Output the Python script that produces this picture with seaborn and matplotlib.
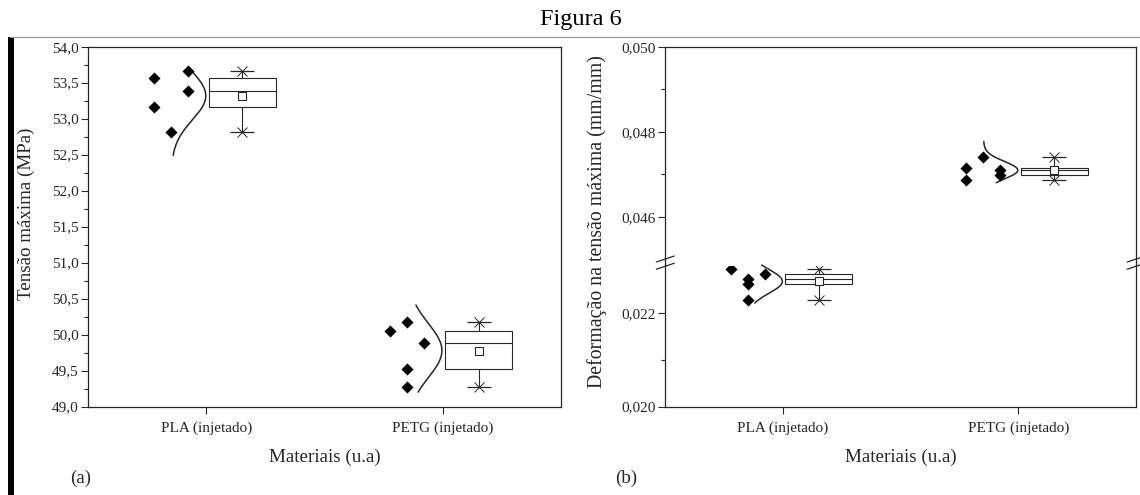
import numpy as np
import pandas as pd
import matplotlib
matplotlib.use("Agg")
import matplotlib.pyplot as plt
import seaborn as sns
from matplotlib.lines import Line2D
from matplotlib.ticker import FixedLocator, FuncFormatter

# ── Data ─────────────────────────────────────────────────────────────────────
materiais = ["PLA (injetado)", "PETG (injetado)"]

# (a) Tensão máxima (MPa)
tensao_pla  = [53.56, 53.16, 52.82, 53.66, 53.39]
tensao_petg = [50.05, 50.17, 49.88, 49.52, 49.27]
# strip column of each diamond (0 = left, 1 = middle, 2 = right)
tensao_pla_col  = [0, 0, 1, 2, 2]
tensao_petg_col = [0, 1, 2, 1, 1]
# vertical extent of the normal curves
tensao_pla_curva  = [52.49, 53.70]
tensao_petg_curva = [49.20, 50.41]
tensao_ticks = [49.0, 49.5, 50.0, 50.5, 51.0, 51.5, 52.0, 52.5, 53.0, 53.5, 54.0]

# (b) Deformação na tensão máxima (mm/mm)
deform_pla  = [0.02294, 0.02272, 0.02261, 0.02227, 0.02282]
deform_petg = [0.04714, 0.04686, 0.04741, 0.04709, 0.04697]
deform_pla_col  = [0, 1, 1, 1, 2]
deform_petg_col = [0, 0, 1, 2, 2]
deform_pla_curva  = [0.02221, 0.02302]
deform_petg_curva = [0.04680, 0.04777]
deform_ticks_sup = [0.046, 0.048, 0.050]
deform_minor_sup = [0.047, 0.049]
deform_ticks_inf = [0.020, 0.022]
deform_minor_inf = [0.021]

# ── Style ────────────────────────────────────────────────────────────────────
sns.set_theme(style="white")
plt.rcParams["font.family"] = ["Liberation Serif", "DejaVu Serif"]
INK = "#262626"
W, H = 1140, 495

LANE = [-0.222, -0.150, -0.078]   # diamond columns relative to category
BOX_SHIFT = 0.152                 # box sits right of the category tick
BOX_W = 0.285

fig = plt.figure(figsize=(W / 100, H / 100), dpi=100)


def px_axes(x0, y0, x1, y1):
    """Axes from pixel box (top-left origin)."""
    return fig.add_axes([x0 / W, 1 - y1 / H, (x1 - x0) / W, (y1 - y0) / H])


def draw_group(ax, i, vals, cols, curva):
    pos = i + 1
    xc = pos + BOX_SHIFT
    v = np.asarray(vals)
    box_df = pd.DataFrame({"x": [xc] * len(v), "y": v})
    sns.boxplot(data=box_df, x="x", y="y", native_scale=True, orient="x",
                width=BOX_W, whis=(0, 100), showcaps=False, showfliers=False,
                color="white", linecolor=INK, linewidth=0.8, ax=ax)
    pts = pd.DataFrame({"x": [pos + LANE[c] for c in cols], "y": v})
    sns.scatterplot(data=pts, x="x", y="y", marker="D", color="black",
                    s=38, linewidth=0, ax=ax, zorder=4)
    # min / max caps with asterisk
    ax.plot([xc, xc], [v.min(), v.max()], ls="none", marker="_", ms=17,
            mew=0.9, color=INK, zorder=3)
    ax.plot([xc, xc], [v.min(), v.max()], ls="none", marker="x", ms=7,
            mew=0.7, color=INK, zorder=3)
    # mean
    ax.plot([xc], [v.mean()], marker="s", ms=5.5, mfc="white", mec=INK,
            mew=0.8, zorder=5)
    # normal curve
    m, sd = v.mean(), v.std(ddof=1)
    yy = np.linspace(curva[0], curva[1], 150)
    dens = np.exp(-0.5 * ((yy - m) / sd) ** 2)
    ax.plot(pos - 0.148 + 0.145 * dens, yy, color=INK, lw=1.1,
            clip_on=False, zorder=3)


def style_axes(ax):
    ax.set_xlim(0.5, 2.5)
    ax.set_xlabel("")
    ax.set_ylabel("")
    for s in ax.spines.values():
        s.set_color(INK)
        s.set_linewidth(0.9)
    ax.tick_params(axis="y", which="major", direction="out", length=5,
                   width=0.8, color=INK, labelsize=11, labelcolor=INK, pad=2,
                   left=True, right=False)
    ax.tick_params(axis="y", which="minor", direction="out", length=2.8,
                   width=0.8, color=INK, left=True, right=False)


fmt1 = FuncFormatter(lambda v, p: f"{v:.1f}".replace(".", ","))
fmt3 = FuncFormatter(lambda v, p: f"{v:.3f}".replace(".", ","))

# ── Panel (a) ────────────────────────────────────────────────────────────────
ax_a = px_axes(88.4, 46.7, 560.7, 406.5)
draw_group(ax_a, 0, tensao_pla, tensao_pla_col, tensao_pla_curva)
draw_group(ax_a, 1, tensao_petg, tensao_petg_col, tensao_petg_curva)
style_axes(ax_a)
ax_a.set_ylim(tensao_ticks[0], tensao_ticks[-1])
ax_a.yaxis.set_major_locator(FixedLocator(tensao_ticks))
ax_a.yaxis.set_minor_locator(FixedLocator(
    [t + 0.25 for t in tensao_ticks[:-1]]))
ax_a.yaxis.set_major_formatter(fmt1)
ax_a.set_xticks([1, 2])
ax_a.set_xticklabels(materiais)
ax_a.tick_params(axis="x", direction="out", length=5, width=0.8, color=INK,
                 labelsize=11, labelcolor=INK, pad=6, bottom=True, top=False)

# ── Panel (b): broken y axis ─────────────────────────────────────────────────
ax_sup = px_axes(665.3, 46.7, 1136.2, 259.2)
ax_inf = px_axes(665.3, 266.0, 1136.2, 406.5)
draw_group(ax_sup, 1, deform_petg, deform_petg_col, deform_petg_curva)
draw_group(ax_inf, 0, deform_pla, deform_pla_col, deform_pla_curva)
for ax in (ax_sup, ax_inf):
    style_axes(ax)
    ax.yaxis.set_major_formatter(fmt3)

ax_sup.set_ylim(0.045, 0.050)
ax_sup.yaxis.set_major_locator(FixedLocator(deform_ticks_sup))
ax_sup.yaxis.set_minor_locator(FixedLocator(deform_minor_sup))
ax_sup.spines["bottom"].set_visible(False)
ax_sup.set_xticks([])

ax_inf.set_ylim(0.020, 0.023)
ax_inf.yaxis.set_major_locator(FixedLocator(deform_ticks_inf))
ax_inf.yaxis.set_minor_locator(FixedLocator(deform_minor_inf))
ax_inf.spines["top"].set_visible(False)
ax_inf.set_xticks([1, 2])
ax_inf.set_xticklabels(materiais)
ax_inf.tick_params(axis="x", direction="out", length=5, width=0.8, color=INK,
                   labelsize=11, labelcolor=INK, pad=6, bottom=True, top=False)

# break marks and spine through the gap
for xs in (665.3, 1136.2):
    fig.add_artist(Line2D([xs / W, xs / W], [1 - 259.2 / H, 1 - 266.0 / H],
                          color=INK, lw=0.9))
    for yb in (259.0, 266.2):
        fig.add_artist(Line2D([(xs - 9) / W, (xs + 9) / W],
                              [1 - (yb + 3) / H, 1 - (yb - 3) / H],
                              color=INK, lw=0.9))

# ── Labels & frame decorations ───────────────────────────────────────────────
fig.text(26 / W, 1 - 214 / H, "Tensão máxima (MPa)", rotation=90,
         ha="center", va="center", fontsize=13.7, color=INK)
fig.text(597 / W, 1 - 222 / H, "Deformação na tensão máxima (mm/mm)",
         rotation=90, ha="center", va="center", fontsize=14.3, color=INK)
fig.text(324.5 / W, 1 - 457 / H, "Materiais (u.a)", ha="center",
         va="center", fontsize=13.7, color=INK)
fig.text(900.7 / W, 1 - 457 / H, "Materiais (u.a)", ha="center",
         va="center", fontsize=13.7, color=INK)
fig.text(81 / W, 1 - 478 / H, "(a)", ha="center", va="center",
         fontsize=13.7, color=INK)
fig.text(626 / W, 1 - 478 / H, "(b)", ha="center", va="center",
         fontsize=13.7, color=INK)
fig.text(581 / W, 1 - 20 / H, "Figura 6", ha="center", va="center",
         fontsize=17.5, color="black")

# grey rule under the title and black bar on the left edge
fig.add_artist(Line2D([10 / W, 1], [1 - 37 / H, 1 - 37 / H],
                      color="#9a9a9a", lw=0.9))
fig.add_artist(plt.Rectangle((8 / W, 0), 6 / W, 1 - 37 / H,
                             transform=fig.transFigure, color="black",
                             lw=0))

plt.savefig("out.png", dpi=100)
plt.close()
